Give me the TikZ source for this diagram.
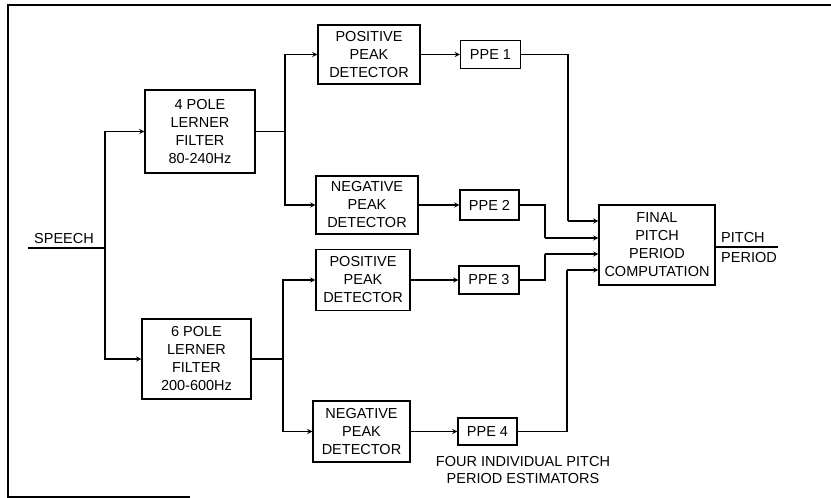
\documentclass[tikz,border=0pt]{standalone}
\usepackage{fontspec}
\setmainfont{Liberation Sans}
\usetikzlibrary{calc}

\tikzset{
  block/.style={draw, line width=1.3pt, align=center, inner sep=1pt, font=\fontsize{14.5}{18}\selectfont},
  wire/.style={line width=1.3pt},
  feed/.style={line width=1.3pt, -stealth},
  tag/.style={font=\fontsize{14.5}{17.5}\selectfont, inner sep=1pt}
}

\begin{document}
\begin{tikzpicture}[x=1pt, y=-1pt]
            \useasboundingbox (0,0) rectangle (831,498);
            % frame
            \path[draw, line width=1.6pt](831,5)--(8,5)--(8,497)--(190,497);
            % filters
            \node[block, minimum width=110, minimum height=83](f4)at(200,131.5){4 POLE\\LERNER\\FILTER\\80-240Hz};
            \node[block, minimum width=109, minimum height=80](f6)at(196.5,359){6 POLE\\LERNER\\FILTER\\200-600Hz};
            % peak detectors
            \node[block, minimum width=102, minimum height=59](pp1)at(369,54.5){POSITIVE\\PEAK\\DETECTOR};
            \node[block, minimum width=102, minimum height=58](np1)at(367,205){NEGATIVE\\PEAK\\DETECTOR};
            \node[block, minimum width=94, minimum height=61](pp2)at(363,280){POSITIVE\\PEAK\\DETECTOR};
            \node[block, minimum width=97, minimum height=61](np2)at(361.5,431.5){NEGATIVE\\PEAK\\DETECTOR};
            % pitch period estimators
            \node[block, minimum width=60, minimum height=28](ppe1)at(490.5,54.5){PPE 1};
            \node[block, minimum width=59, minimum height=30](ppe2)at(489.5,205){PPE 2};
            \node[block, minimum width=60, minimum height=28](ppe3)at(489,280){PPE 3};
            \node[block, minimum width=59, minimum height=27](ppe4)at(487.5,431.5){PPE 4};
            \node[tag, align=center](est)at(523,470){FOUR INDIVIDUAL PITCH\\PERIOD ESTIMATORS};
            % final stage
            \node[block, minimum width=116, minimum height=80](final)at(657,245){FINAL\\PITCH\\PERIOD\\COMPUTATION};
            % input
            \coordinate(sp)at(28,248);
            \coordinate(spj)at(105,248);
            \node[tag, anchor=south](speech)at(64,245){SPEECH};
            \path[draw, wire](sp)--(spj);
            \path[draw, feed](spj)|-(f4.west);
            \path[draw, feed](spj)|-(f6.west);
            % branches
            \coordinate(j1)at(285,131.5);
            \coordinate(j2)at(283,359);
            \path[draw, wire](f4.east)--(j1);
            \path[draw, feed](j1)|-(pp1.west);
            \path[draw, feed](j1)|-(np1.west);
            \path[draw, wire](f6.east)--(j2);
            \path[draw, feed](j2)|-(pp2.west);
            \path[draw, feed](j2)|-(np2.west);
            \path[draw, feed](pp1.east)--(ppe1.west);
            \path[draw, feed](np1.east)--(ppe2.west);
            \path[draw, feed](pp2.east)--(ppe3.west);
            \path[draw, feed](np2.east)--(ppe4.west);
            % into final
            \coordinate(k1)at(568,221);
            \coordinate(k2)at(545,238);
            \coordinate(k3)at(545,254);
            \coordinate(k4)at(567,270);
            \path[draw, wire](ppe1.east)-|(k1);
            \path[draw, feed](k1)--(k1-|final.west);
            \path[draw, wire](ppe2.east)-|(k2);
            \path[draw, feed](k2)--(k2-|final.west);
            \path[draw, wire](ppe3.east)-|(k3);
            \path[draw, feed](k3)--(k3-|final.west);
            \path[draw, wire](ppe4.east)-|(k4);
            \path[draw, feed](k4)--(k4-|final.west);
            % output
            \coordinate(out)at(778,247);
            \path[draw, wire](out-|final.east)--(out);
            \node[tag, anchor=south west](pitch)at(720,244){PITCH};
            \node[tag, anchor=north west](period)at(720,251){PERIOD};
\end{tikzpicture}
\end{document}
